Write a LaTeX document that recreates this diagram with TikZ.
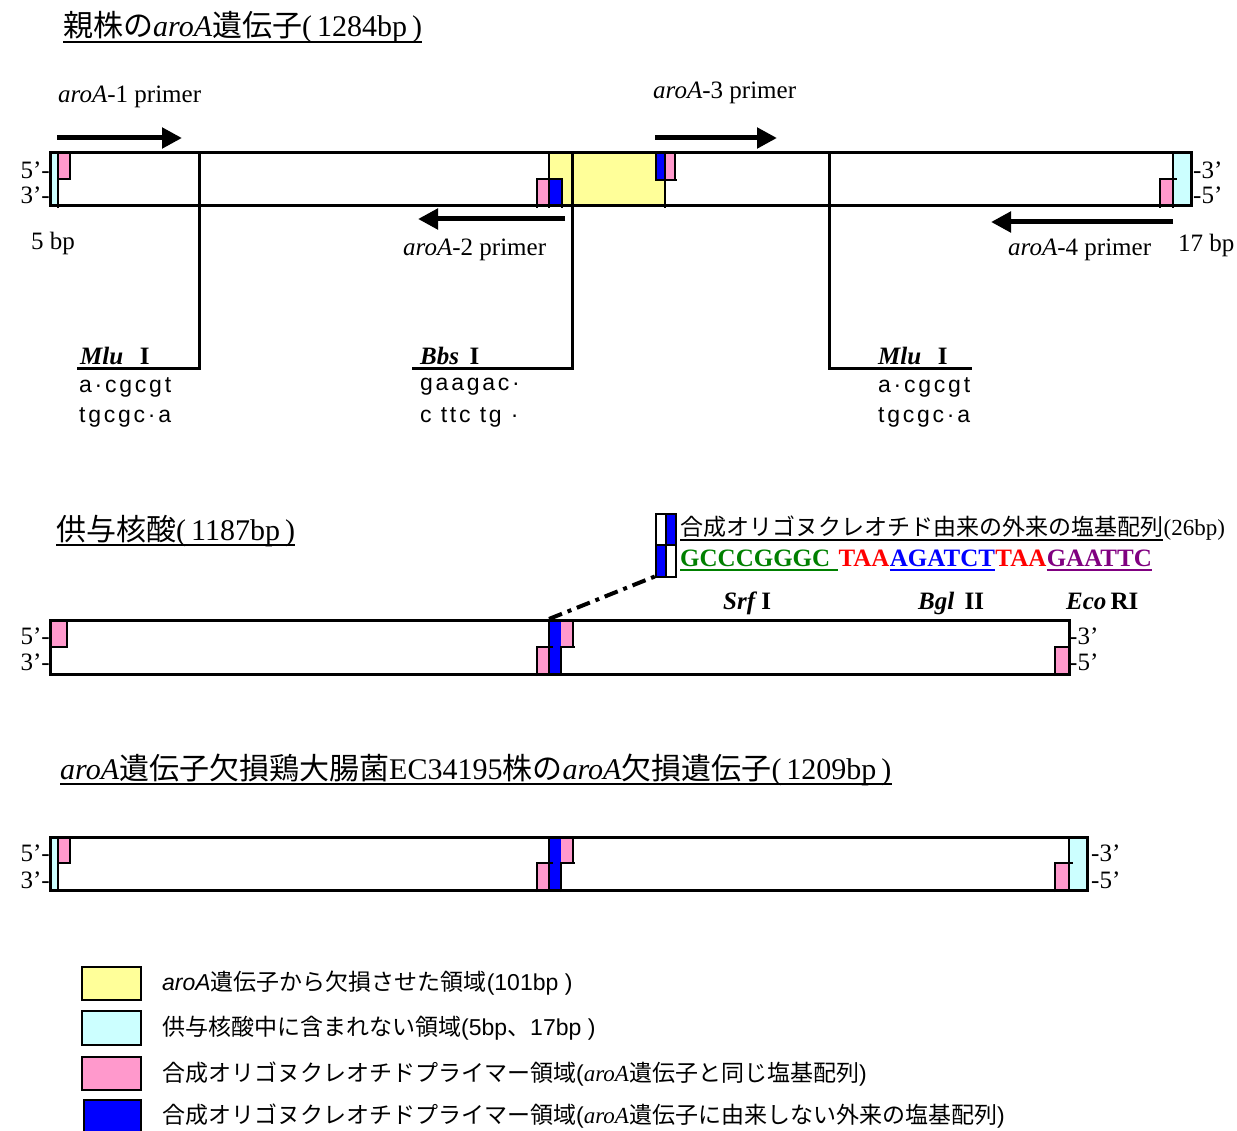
\documentclass[tikz,border=0pt]{standalone}
\usepackage{fontspec}
\setmainfont{Liberation Serif}
\setsansfont{Liberation Sans}
\newfontfamily\jp{Noto Sans CJK JP}
\newfontfamily\seqfont{Liberation Sans}[LetterSpace=12]
\usetikzlibrary{arrows.meta}
\definecolor{delyel}{HTML}{FFFF99}
\definecolor{outcyan}{HTML}{CCFFFF}
\definecolor{prmpink}{HTML}{FF99CC}
\definecolor{prmblue}{HTML}{0000FF}
\definecolor{seqgreen}{HTML}{008000}
\definecolor{seqred}{HTML}{FF0000}
\definecolor{seqpurple}{HTML}{800080}
\newcommand{\aro}{\textit{aroA}}
\newcommand{\enz}[2]{\textbf{\textit{#1}}\,\textbf{#2}}

\begin{document}
\begin{tikzpicture}[x=1pt, y=-1pt,
    strand/.style={line width=3pt},
    seg/.style={line width=2.5pt},
    primer/.style={-{Triangle[length=20pt,width=20pt]}, line width=5pt},
    lbl/.style={inner sep=0pt, font=\fontsize{25}{30}\selectfont},
    ttl/.style={inner sep=0pt, anchor=base west, font=\fontsize{30}{34}\selectfont},
    seq/.style={inner sep=0pt, anchor=west, font=\seqfont\fontsize{23}{27}\selectfont},
    seqb/.style={inner sep=0pt, anchor=base west, font=\bfseries\fontsize{25}{29}\selectfont},
    key/.style={inner sep=0pt, anchor=west, font=\sffamily\fontsize{23}{28}\selectfont}]
  \useasboundingbox (0,0) rectangle (1237,1131);

  % parent aroA gene
  \node[ttl] (t1) at (63,37) {{\jp 親株の}\aro{\jp 遺伝子}(\,1284bp\,)};
  \draw[line width=1.5pt] ([yshift=-5pt]t1.base west) -- ([yshift=-5pt]t1.base east);

  \fill[outcyan] (50,153) rectangle (58,206);
  \fill[prmpink] (58,153) rectangle (70,179);
  \fill[delyel] (549,153) rectangle (665,206);
  \fill[prmpink] (537,179) rectangle (549,206);
  \fill[prmblue] (549,179) rectangle (562,206);
  \fill[prmblue] (656,153) rectangle (665,180);
  \fill[prmpink] (665,153) rectangle (675,180);
  \fill[prmpink] (1160,179) rectangle (1173,206);
  \fill[outcyan] (1173,153) rectangle (1191,206);

  \draw[strand] (50,153) rectangle (1191,206);
  \draw[seg] (58,153) -- (58,208) (70,153) -- (70,179) -- (58,179);
  \draw[seg] (537,208) -- (537,179) -- (562,179) -- (562,208) (549,153) -- (549,208);
  \draw[seg] (656,153) -- (656,180) -- (677,180) (675,153) -- (675,180) (665,153) -- (665,208);
  \draw[seg] (1160,208) -- (1160,179) -- (1177,179) (1173,153) -- (1173,208);

  % cut sites
  \draw[strand] (199,153) -- (199,369) -- (77,369);
  \draw[strand] (572,153) -- (572,369) -- (412,369);
  \draw[strand] (829,153) -- (829,369) -- (972,369);
  \node[lbl, anchor=base west] (mlu1) at (80,365) {\enz{Mlu}{\ \ I}};
  \node[lbl, anchor=base west] (bbs) at (420,365) {\enz{Bbs}{\ I}};
  \node[lbl, anchor=base west] (mlu2) at (878,365) {\enz{Mlu}{\ \ I}};
  \node[seq] at (79,387) {a·cgcgt};
  \node[seq] at (79,417) {tgcgc·a};
  \node[seq] at (420,387) {gaagac·};
  \node[seq] at (420,417) {c ttc tg ·};
  \node[seq] at (878,387) {a·cgcgt};
  \node[seq] at (878,417) {tgcgc·a};

  % primers
  \draw[primer] (57,138) -- (182,138);
  \draw[primer] (655,138) -- (777,138);
  \draw[primer] (565,219) -- (418,219);
  \draw[primer] (1173,222) -- (991,222);
  \node[lbl, anchor=west] at (58,97) {\aro-1 primer};
  \node[lbl, anchor=west] at (653,93) {\aro-3 primer};
  \node[lbl, anchor=west] at (403,250) {\aro-2 primer};
  \node[lbl, anchor=west] at (1008,250) {\aro-4 primer};
  \node[lbl, anchor=west] at (31,243) {5 bp};
  \node[lbl, anchor=west] at (1178,245) {17 bp};
  \node[lbl, anchor=east] at (50,170) {5’-};
  \node[lbl, anchor=east] at (50,195) {3’-};
  \node[lbl, anchor=west] at (1193,170) {-3’};
  \node[lbl, anchor=west] at (1193,195) {-5’};

  % donor DNA
  \node[ttl] (t2) at (56,540) {{\jp 供与核酸}(\,1187bp\,)};
  \draw[line width=1.5pt] ([yshift=-5pt]t2.base west) -- ([yshift=-5pt]t2.base east);

  \fill[prmblue] (666,514) rectangle (676,545);
  \fill[prmblue] (656,545) rectangle (666,577);
  \draw[seg] (656,514) rectangle (676,577);
  \draw[seg] (666,514) -- (666,577) (656,545) -- (676,545);
  \node[inner sep=0pt, anchor=base west, font=\fontsize{23}{28}\selectfont] (ins)
    at (680,535) {\jp 合成オリゴヌクレオチド由来の外来の塩基配列};
  \node[inner sep=0pt, anchor=base west, font=\fontsize{23}{28}\selectfont] (insbp)
    at (ins.base east) {(26bp)};
  \draw[line width=1.5pt] ([yshift=-5pt]ins.base west) -- ([yshift=-5pt]ins.base east);

  \node[seqb, seqgreen] (s1) at (680,566) {GCCCGGGC\kern8pt};
  \node[seqb, seqred] (s2) at (s1.base east) {TAA};
  \node[seqb, prmblue] (s3) at (s2.base east) {AGATCT};
  \node[seqb, seqred] (s4) at (s3.base east) {TAA};
  \node[seqb, seqpurple] (s5) at (s4.base east) {GAATTC};
  \draw[seqgreen, line width=2pt] ([yshift=-4pt]s1.base west) -- ([yshift=-4pt]s1.base east);
  \draw[prmblue, line width=2pt] ([yshift=-4pt]s3.base west) -- ([yshift=-4pt]s3.base east);
  \draw[seqpurple, line width=2pt] ([yshift=-4pt]s5.base west) -- ([yshift=-4pt]s5.base east);

  \node[lbl, anchor=base west] at (723,609) {\enz{Srf}{I}};
  \node[lbl, anchor=base west] at (918,609) {\enz{Bgl}{\ II}};
  \node[lbl, anchor=base west] at (1066,609) {\enz{Eco}{RI}};

  \draw[line width=4pt, dash pattern=on 14pt off 6pt on 4pt off 6pt] (549,619) -- (656,576);

  \begin{scope}[shift={(0,620)}]
    \fill[prmpink] (50,0) rectangle (67,27);
    \fill[prmblue] (549,0) rectangle (561,54);
    \fill[prmpink] (561,0) rectangle (573,27);
    \fill[prmpink] (537,27) rectangle (549,54);
    \fill[prmpink] (1055,27) rectangle (1069,54);
    \draw[strand] (50,0) rectangle (1069,54);
    \draw[seg] (67,0) -- (67,27) -- (50,27);
    \draw[seg] (537,56) -- (537,27) -- (553,27) (549,0) -- (549,56)
      (561,56) -- (561,27) -- (575,27) (573,0) -- (573,27);
    \draw[seg] (1055,56) -- (1055,27) -- (1069,27);
    \node[lbl, anchor=east] at (50,16) {5’-};
    \node[lbl, anchor=east] at (50,42) {3’-};
    \node[lbl, anchor=west] at (1069,16) {-3’};
    \node[lbl, anchor=west] at (1069,42) {-5’};
  \end{scope}

  % deleted gene
  \node[ttl] (t3) at (60,779) {\aro{\jp 遺伝子欠損鶏大腸菌}EC34195{\jp 株の}\aro{\jp 欠損遺伝子}(\,1209bp\,)};
  \draw[line width=1.5pt] ([yshift=-5pt]t3.base west) -- ([yshift=-5pt]t3.base east);

  \begin{scope}[shift={(0,837)}]
    \fill[outcyan] (50,0) rectangle (58,53);
    \fill[prmpink] (58,0) rectangle (70,26);
    \fill[prmblue] (549,0) rectangle (561,53);
    \fill[prmpink] (561,0) rectangle (573,26);
    \fill[prmpink] (537,26) rectangle (549,53);
    \fill[prmpink] (1055,26) rectangle (1069,53);
    \fill[outcyan] (1069,0) rectangle (1087,53);
    \draw[strand] (50,0) rectangle (1087,53);
    \draw[seg] (58,0) -- (58,55) (70,0) -- (70,26) -- (58,26) (50,53) -- (50,55);
    \draw[seg] (537,55) -- (537,26) -- (553,26) (549,0) -- (549,55)
      (561,55) -- (561,26) -- (575,26) (573,0) -- (573,26);
    \draw[seg] (1055,55) -- (1055,26) -- (1073,26) (1069,0) -- (1069,55) (1087,53) -- (1087,55);
    \node[lbl, anchor=east] at (50,16) {5’-};
    \node[lbl, anchor=east] at (50,43) {3’-};
    \node[lbl, anchor=west] at (1091,16) {-3’};
    \node[lbl, anchor=west] at (1091,43) {-5’};
  \end{scope}

  % legend
  \draw[seg, fill=delyel] (82,967) rectangle (141,1000);
  \draw[seg, fill=outcyan] (82,1011) rectangle (141,1045);
  \draw[seg, fill=prmpink] (82,1057) rectangle (141,1090);
  \draw[seg, fill=prmblue] (84,1100) rectangle (141,1133);
  \node[key] at (162,983) {\textit{aroA}{\jp 遺伝子から欠損させた領域}(101bp )};
  \node[key] at (162,1028) {{\jp 供与核酸中に含まれない領域}(5bp{\jp 、}17bp )};
  \node[key] at (162,1074) {{\jp 合成オリゴヌクレオチドプライマー領域}(\textrm{\aro}{\jp 遺伝子と同じ塩基配列})};
  \node[key] at (162,1116) {{\jp 合成オリゴヌクレオチドプライマー領域}(\textrm{\aro}{\jp 遺伝子に由来しない外来の塩基配列})};
\end{tikzpicture}
\end{document}
